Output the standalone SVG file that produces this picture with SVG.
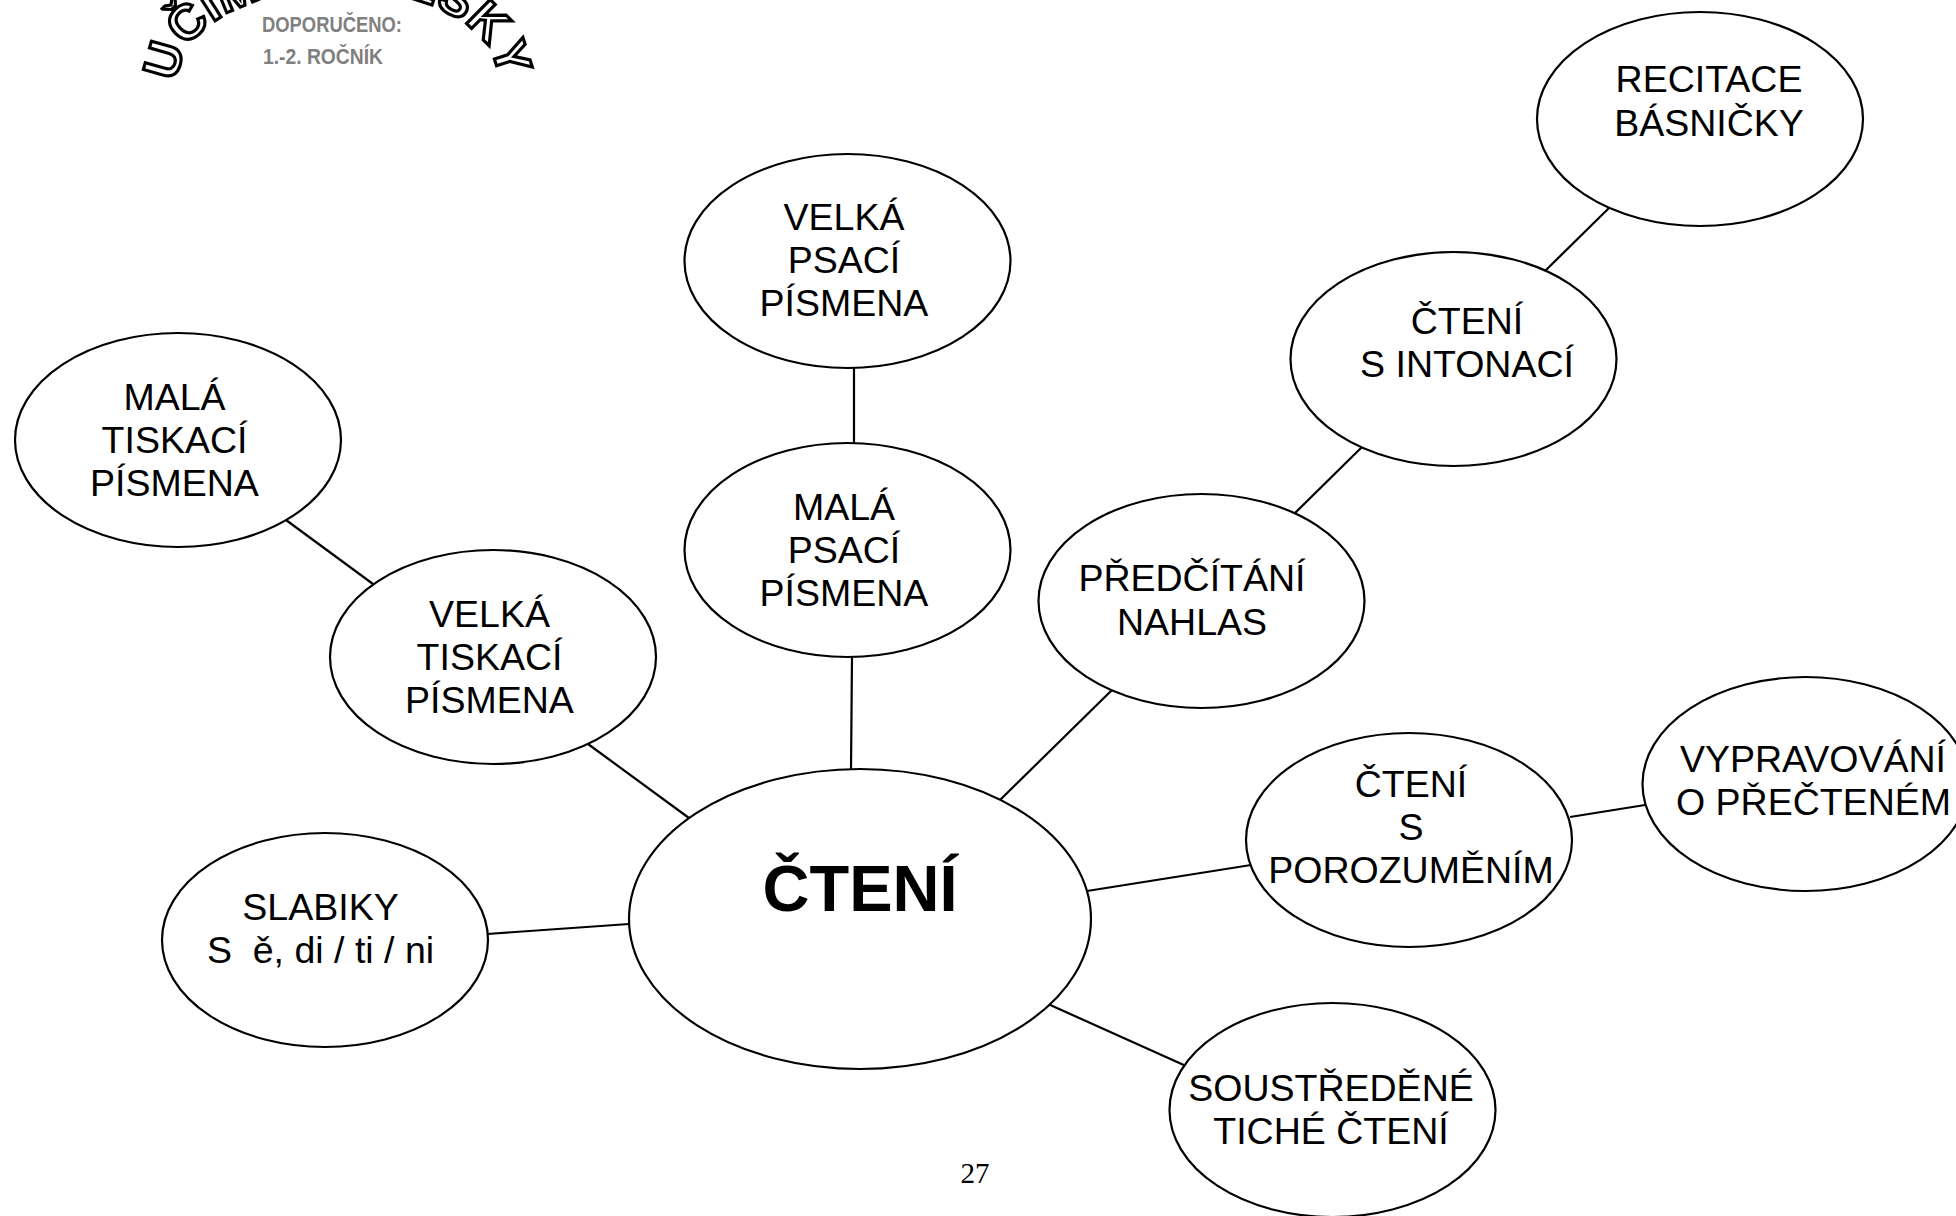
<svg xmlns="http://www.w3.org/2000/svg" width="1956" height="1216" viewBox="0 0 1956 1216">
<style>
.n{fill:#fff;stroke:#000;stroke-width:2.2}
.c line{stroke:#000;stroke-width:2.2}
.t{font-family:"Liberation Sans",Arial,sans-serif;font-size:37.5px;fill:#000;text-anchor:middle}
.w{font-family:"Liberation Sans",Arial,sans-serif;font-weight:700;font-size:49px;fill:#fff;stroke:#000;stroke-width:3.2;letter-spacing:0.5px;word-spacing:-11px}
.g{font-family:"Liberation Sans",Arial,sans-serif;font-weight:700;font-size:22px;fill:#808080}
</style>
<defs><path id="arc" d="M178 82 A160 90 0 0 1 498 75 L498 140"/></defs>
<rect width="1956" height="1216" fill="#fff"/>
<g id="wordart"><text class="w"><textPath href="#arc" startOffset="0">UČÍME SE ČESKY</textPath></text></g>
<text class="g" x="262" y="32" textLength="140" lengthAdjust="spacingAndGlyphs">DOPORUČENO:</text>
<text class="g" x="263" y="64" textLength="120" lengthAdjust="spacingAndGlyphs">1.-2. ROČNÍK</text>
<g id="connectors" class="c">
<line x1="854" y1="368" x2="854" y2="445"/>
<line x1="852" y1="656" x2="851" y2="771"/>
<line x1="1609" y1="208" x2="1545" y2="271"/>
<line x1="1362" y1="447" x2="1295" y2="513"/>
<line x1="1112" y1="690" x2="1000" y2="800"/>
<line x1="286" y1="520" x2="373" y2="584"/>
<line x1="588" y1="744" x2="689" y2="818"/>
<line x1="487" y1="934" x2="629" y2="924"/>
<line x1="1087" y1="891" x2="1251" y2="865"/>
<line x1="1570" y1="817" x2="1645" y2="805"/>
<line x1="1048" y1="1004" x2="1186" y2="1066"/>
</g>
<g id="n-recitace"><ellipse class="n" cx="1700" cy="119" rx="163" ry="107"/><text class="t" x="1709" y="92">RECITACE</text><text class="t" x="1709" y="136">BÁSNIČKY</text></g>
<g id="n-velka-psaci"><ellipse class="n" cx="847.500" cy="261" rx="163" ry="107"/><text class="t" x="844" y="230">VELKÁ</text><text class="t" x="844" y="273">PSACÍ</text><text class="t" x="844" y="316">PÍSMENA</text></g>
<g id="n-mala-psaci"><ellipse class="n" cx="847.500" cy="550" rx="163" ry="107"/><text class="t" x="844" y="520">MALÁ</text><text class="t" x="844" y="563">PSACÍ</text><text class="t" x="844" y="606">PÍSMENA</text></g>
<g id="n-mala-tiskaci"><ellipse class="n" cx="178" cy="440" rx="163" ry="107"/><text class="t" x="174.500" y="410">MALÁ</text><text class="t" x="174.500" y="453">TISKACÍ</text><text class="t" x="174.500" y="496">PÍSMENA</text></g>
<g id="n-velka-tiskaci"><ellipse class="n" cx="493" cy="657" rx="163" ry="107"/><text class="t" x="489.500" y="627">VELKÁ</text><text class="t" x="489.500" y="670">TISKACÍ</text><text class="t" x="489.500" y="713">PÍSMENA</text></g>
<g id="n-cteni-intonaci"><ellipse class="n" cx="1453.500" cy="359" rx="163" ry="107"/><text class="t" x="1467" y="334">ČTENÍ</text><text class="t" x="1467" y="377">S INTONACÍ</text></g>
<g id="n-predcitani"><ellipse class="n" cx="1201.500" cy="601" rx="163" ry="107"/><text class="t" x="1192" y="591">PŘEDČÍTÁNÍ</text><text class="t" x="1192" y="635">NAHLAS</text></g>
<g id="n-porozumenim"><ellipse class="n" cx="1409" cy="840" rx="163" ry="107"/><text class="t" x="1411" y="797">ČTENÍ</text><text class="t" x="1411" y="840">S</text><text class="t" x="1411" y="883">POROZUMĚNÍM</text></g>
<g id="n-vypravovani"><ellipse class="n" cx="1805.500" cy="784" rx="163" ry="107"/><text class="t" x="1813" y="772">VYPRAVOVÁNÍ</text><text class="t" x="1813.500" y="815">O PŘEČTENÉM</text></g>
<g id="n-slabiky"><ellipse class="n" cx="325" cy="940" rx="163" ry="107"/><text class="t" x="320.500" y="920">SLABIKY</text><text class="t" x="320.500" y="963" xml:space="preserve">S  ě, di / ti / ni</text></g>
<g id="n-soustredene"><ellipse class="n" cx="1332.500" cy="1110" rx="163" ry="107"/><text class="t" x="1331" y="1101">SOUSTŘEDĚNÉ</text><text class="t" x="1331" y="1144">TICHÉ ČTENÍ</text></g>
<g id="n-cteni"><ellipse class="n" cx="860" cy="919" rx="231" ry="150"/><text class="t" x="860" y="911" style="font-weight:700;font-size:65px">ČTENÍ</text></g>
<text x="975" y="1183" style="font-family:'Liberation Serif',serif;font-size:29px;text-anchor:middle">27</text>
</svg>
